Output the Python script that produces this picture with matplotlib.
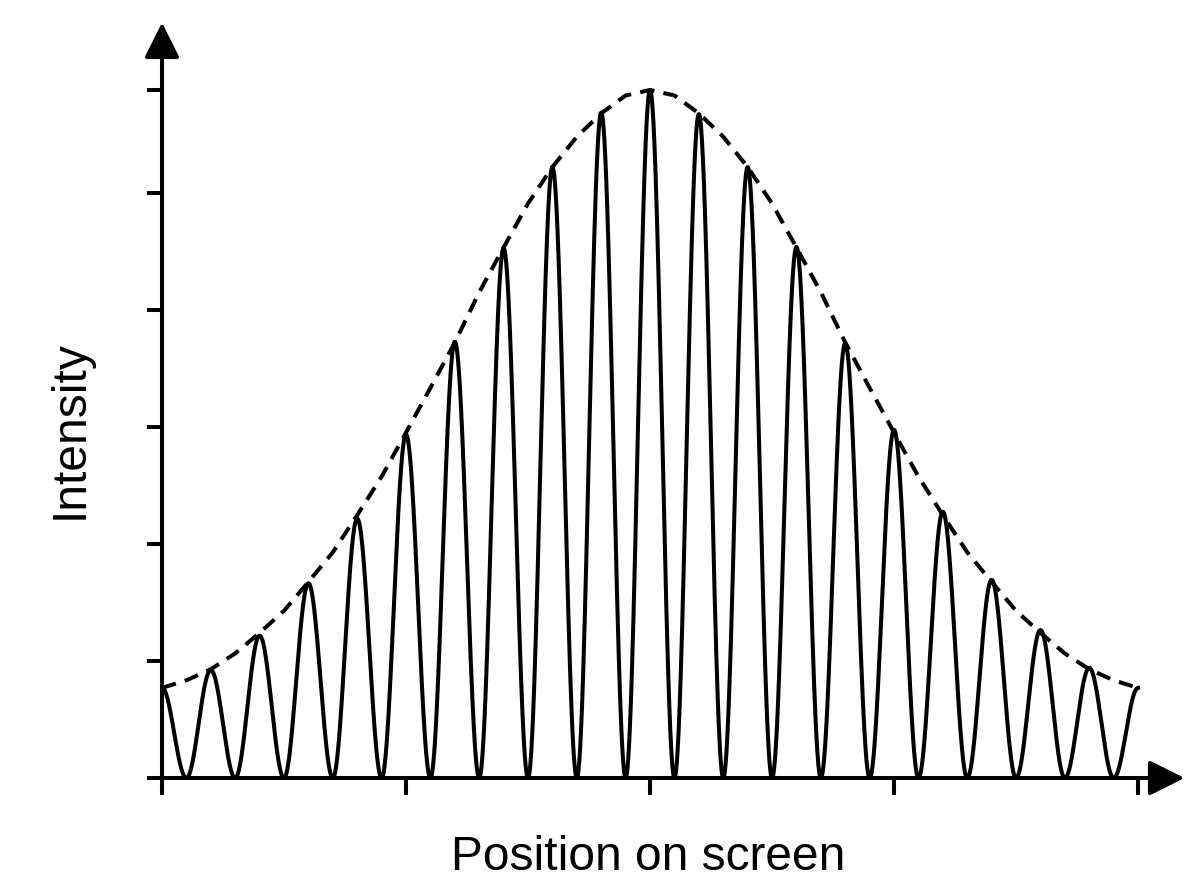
import numpy as np
import matplotlib.pyplot as plt

plt.rcParams['font.family'] = ['Liberation Sans', 'DejaVu Sans']

# fringe maxima: position on screen and peak intensity (centre peak = 1)
fringe_pos = [-2.0, -1.8, -1.6, -1.4, -1.2, -1.0, -0.8, -0.6, -0.4, -0.2, 0.0,
              0.2, 0.4, 0.6, 0.8, 1.0, 1.2, 1.4, 1.6, 1.8, 2.0]
fringe_peak = [0.131, 0.157, 0.207, 0.283, 0.377, 0.499, 0.634, 0.770, 0.888, 0.967, 1.0,
               0.965, 0.888, 0.772, 0.632, 0.506, 0.387, 0.288, 0.215, 0.160, 0.131]

# dashed envelope, read at the maxima and half way between them
env_pos = [-2.0, -1.9, -1.8, -1.7, -1.6, -1.5, -1.4, -1.3, -1.2, -1.1, -1.0,
           -0.9, -0.8, -0.7, -0.6, -0.5, -0.4, -0.3, -0.2, -0.1, 0.0,
           0.1, 0.2, 0.3, 0.4, 0.5, 0.6, 0.7, 0.8, 0.9, 1.0,
           1.1, 1.2, 1.3, 1.4, 1.5, 1.6, 1.7, 1.8, 1.9, 2.0]
env_height = [0.131, 0.142, 0.158, 0.181, 0.211, 0.243, 0.285, 0.328, 0.382, 0.438, 0.502,
              0.567, 0.633, 0.706, 0.771, 0.835, 0.888, 0.932, 0.966, 0.992, 1.0,
              0.992, 0.966, 0.932, 0.888, 0.835, 0.771, 0.706, 0.633, 0.567, 0.502,
              0.438, 0.382, 0.328, 0.285, 0.243, 0.211, 0.181, 0.158, 0.142, 0.131]

x_ticks = [-2, -1, 0, 1, 2]
y_ticks = [0, 0.17, 0.34, 0.51, 0.68, 0.85, 1.0]

fringe_width = 0.2
lw = 2.9

fig = plt.figure(figsize=(12, 8.96), dpi=100)
ax = fig.add_axes([0.135, 0.1317, 0.8567, 0.8516])
ax.set_xlim(-2, 2.213)
ax.set_ylim(0, 1.109)

# each bright fringe is a cos^2 lobe scaled to its measured peak
xs, ys = [], []
for p, h in zip(fringe_pos, fringe_peak):
    lo = max(p - fringe_width / 2, -2.0)
    hi = min(p + fringe_width / 2, 2.0)
    x = np.linspace(lo, hi, 300)
    xs.append(x)
    ys.append(h * np.cos(np.pi * (x - p) / fringe_width) ** 2)
ax.plot(np.concatenate(xs), np.concatenate(ys), color='black', lw=lw,
        solid_joinstyle='round')

ax.plot(env_pos, env_height, color='black', lw=lw, dashes=(3.6, 2.3))

for s in ax.spines.values():
    s.set_visible(False)
ax.set_xticks(x_ticks)
ax.set_yticks(y_ticks)
ax.set_xticklabels([])
ax.set_yticklabels([])
ax.tick_params(direction='out', width=lw, color='black')
ax.tick_params(axis='x', length=12.5)
ax.tick_params(axis='y', length=11)

arrow = dict(arrowstyle='-|>,head_length=0.4,head_width=0.2', mutation_scale=54,
             lw=lw, color='black', shrinkA=0, shrinkB=0)
ax.annotate('', xy=(2.19, 0), xytext=(-2, 0), arrowprops=arrow, annotation_clip=False)
ax.annotate('', xy=(-2, 1.098), xytext=(-2, 0), arrowprops=arrow, annotation_clip=False)

fig.text(648 / 1200, (896 - 870) / 896, 'Position on screen', ha='center',
         va='baseline', fontsize=34.5)
fig.text(83 / 1200, (896 - 430) / 896, 'Intensity', rotation=90, rotation_mode='anchor',
         ha='center', va='baseline', fontsize=34.5)

fig.savefig('out.png', dpi=100)
